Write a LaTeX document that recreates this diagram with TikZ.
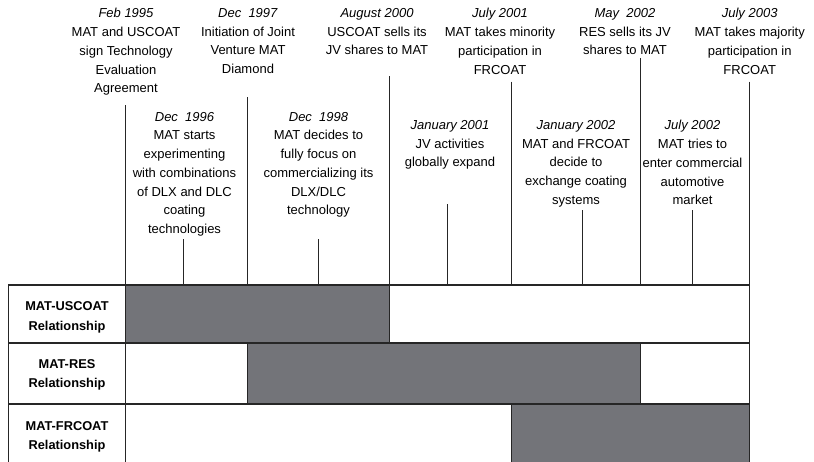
\documentclass[tikz,border=0pt]{standalone}
\usepackage{fontspec}
\setmainfont{Liberation Sans}
\usetikzlibrary{calc}

\definecolor{bargray}{RGB}{115,116,121}

\tikzset{
    evtext/.style={align=center, inner sep=0pt, anchor=north, font=\fontsize{13}{18.7}\selectfont},
    tick/.style={draw=black!85, line width=0.9pt},
    grid/.style={draw=black!85, line width=1.1pt},
    bar/.style={fill=bargray, draw=black!85, line width=1.1pt},
    rowlabel/.style={align=center, inner sep=0pt, font=\fontsize{12.8}{19.3}\selectfont\bfseries}
}

\begin{document}
\begin{tikzpicture}[x=1pt, y=-1pt]
          \useasboundingbox (0,0) rectangle (814,461);

               \coordinate (tabtop) at (0, 285);

               %% bars
               \filldraw[bar] (125.7, 285) rectangle (389.3, 343);
               \filldraw[bar] (247.7, 343) rectangle (640.3, 404);
               \filldraw[bar] (511.7, 404) rectangle (749.7, 466);

               %% table
               \draw[grid] (8.3, 285) -- (749.7, 285);
               \draw[grid] (8.3, 343) -- (749.7, 343);
               \draw[grid] (8.3, 404) -- (749.7, 404);
               \draw[grid] (8.3, 285) -- (8.3, 466);
               \draw[grid] (125.7, 285) -- (125.7, 466);
               \draw[grid] (749.7, 285) -- (749.7, 466);

               \node[rowlabel] (lab1) at (67, 317.5) {MAT-USCOAT\\Relationship};
               \node[rowlabel] (lab2) at (67, 375) {MAT-RES\\Relationship};
               \node[rowlabel] (lab3) at (67, 437) {MAT-FRCOAT\\Relationship};

               %% Feb 1995
               \node[evtext] (ev95) at (126, 8.3) {\textit{Feb 1995}\\MAT and USCOAT\\sign Technology\\Evaluation\\Agreement};
               \coordinate (top95) at (125.7, 105);
               \draw[tick] (top95) -- (top95 |- tabtop);

               %% Dec 1996
               \node[evtext] (ev96) at (184.5, 112) {\textit{Dec~~1996}\\MAT starts\\experimenting\\with combinations\\of DLX and DLC\\coating\\technologies};
               \coordinate (top96) at (183.3, 239.3);
               \draw[tick] (top96) -- (top96 |- tabtop);

               %% Dec 1997
               \node[evtext] (ev97) at (248, 8.3) {\textit{Dec~~1997}\\Initiation of Joint\\Venture MAT\\Diamond};
               \coordinate (top97) at (247.7, 97.3);
               \draw[tick] (top97) -- (top97 |- tabtop);

               %% Dec 1998
               \node[evtext] (ev98) at (318.5, 112) {\textit{Dec~~1998}\\MAT decides to\\fully focus on\\commercializing its\\DLX/DLC\\technology};
               \coordinate (top98) at (318.7, 239.3);
               \draw[tick] (top98) -- (top98 |- tabtop);

               %% August 2000
               \node[evtext] (ev00) at (377, 8.3) {\textit{August 2000}\\USCOAT sells its\\JV shares to MAT};
               \coordinate (top00) at (389.3, 76);
               \draw[tick] (top00) -- (top00 |- tabtop);

               %% January 2001
               \node[evtext] (ev01a) at (450, 120.3) {\textit{January 2001}\\JV activities\\globally expand};
               \coordinate (top01a) at (447.3, 204);
               \draw[tick] (top01a) -- (top01a |- tabtop);

               %% July 2001
               \node[evtext] (ev01b) at (500, 8.3) {\textit{July 2001}\\MAT takes minority\\participation in\\FRCOAT};
               \coordinate (top01b) at (511.7, 81.7);
               \draw[tick] (top01b) -- (top01b |- tabtop);

               %% January 2002
               \node[evtext] (ev02a) at (576, 120.3) {\textit{January 2002}\\MAT and FRCOAT\\decide to\\exchange coating\\systems};
               \coordinate (top02a) at (582.3, 210);
               \draw[tick] (top02a) -- (top02a |- tabtop);

               %% May 2002
               \node[evtext] (ev02b) at (625, 8.3) {\textit{May~~2002}\\RES sells its JV\\shares to MAT};
               \coordinate (top02b) at (640.3, 58.3);
               \draw[tick] (top02b) -- (top02b |- tabtop);

               %% July 2002
               \node[evtext] (ev02c) at (692.5, 120.3) {\textit{July 2002}\\MAT tries to\\enter commercial\\automotive\\market};
               \coordinate (top02c) at (692, 210);
               \draw[tick] (top02c) -- (top02c |- tabtop);

               %% July 2003
               \node[evtext] (ev03) at (749.7, 8.3) {\textit{July 2003}\\MAT takes majority\\participation in\\FRCOAT};
               \coordinate (top03) at (749.7, 81.7);
               \draw[tick] (top03) -- (top03 |- tabtop);
   \end{tikzpicture}
\end{document}
